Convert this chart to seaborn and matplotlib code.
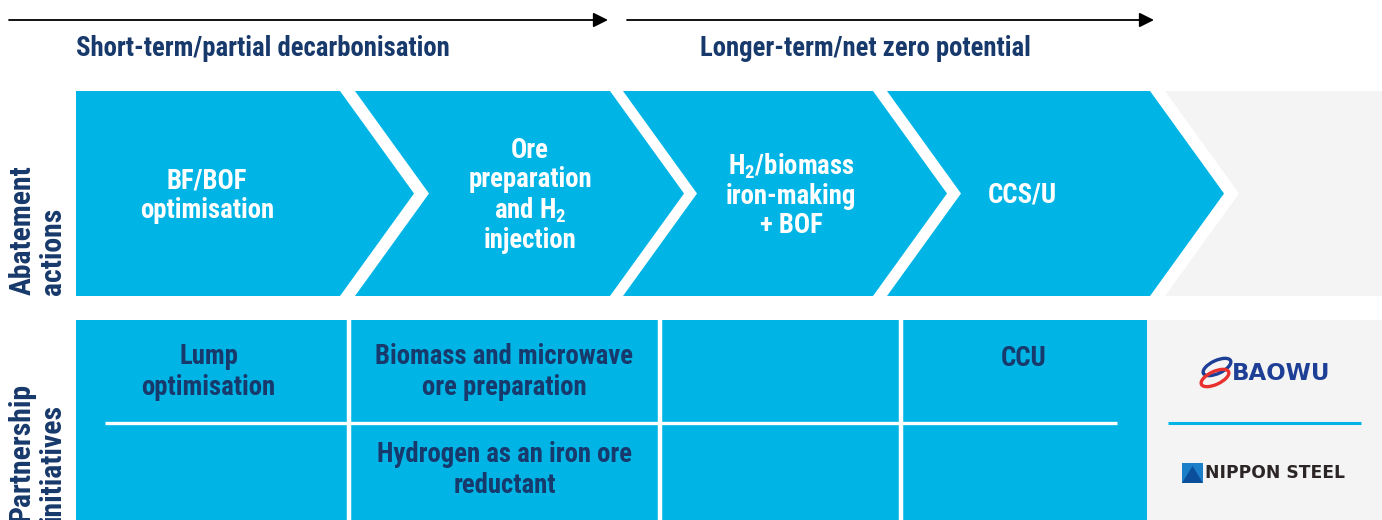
import matplotlib
matplotlib.use("Agg")
import matplotlib.pyplot as plt
from matplotlib.patches import Polygon, Rectangle, Ellipse
from matplotlib import font_manager
import seaborn as sns

# ---------------- data ----------------
phase_titles = ["Short-term/partial decarbonisation", "Longer-term/net zero potential"]
row_labels = ["Abatement\nactions", "Partnership\ninitiatives"]
abatement_actions = [
    "BF/BOF\noptimisation",
    "Ore\npreparation\nand H$_{\\mathregular{2}}$\ninjection",
    "H$_{\\mathregular{2}}$/biomass\niron-making\n+ BOF",
    "CCS/U",
]
partnership_top = ["Lump\noptimisation", "Biomass and microwave\nore preparation", "", "CCU"]
partnership_bottom = ["", "Hydrogen as an iron ore\nreductant", "", ""]
partners = ["BAOWU", "NIPPON STEEL"]

# ---------------- style ----------------
sns.set_theme(style="white")
avail = {f.name for f in font_manager.fontManager.ttflist}
FONT = "Roboto"
for cand in ["Roboto Condensed", "Liberation Sans Narrow", "Roboto"]:
    if cand in avail:
        FONT = cand
        break
plt.rcParams["font.family"] = [FONT, "DejaVu Sans"]
plt.rcParams["mathtext.default"] = "regular"

BLUE = "#00B5E5"
NAVY = "#17396B"
GRAY = "#F4F4F4"
FS = 19.3

W, H = 1382, 520
fig = plt.figure(figsize=(W / 100, H / 100), dpi=100)
ax = fig.add_axes([0, 0, 1, 1])
ax.set_xlim(0, W)
ax.set_ylim(H, 0)
ax.axis("off")

# ---------------- top arrows + phase titles ----------------
arrow_spans = [(9, 608), (627, 1154)]
title_x = [76, 700]
for (x0, x1), tx, title in zip(arrow_spans, title_x, phase_titles):
    ax.annotate("", xy=(x1, 20), xytext=(x0, 20),
                arrowprops=dict(arrowstyle="-|>", color="black", lw=1.3,
                                mutation_scale=22, shrinkA=0, shrinkB=0))
    ax.text(tx, 48, title, ha="left", va="center", color=NAVY,
            fontsize=FS, fontweight="bold")

# ---------------- chevrons ----------------
chev_left = [76, 355, 623, 887]
chev_right = [340, 610, 873, 1150]
depth = 74
y0, y1 = 91, 296
ym = (y0 + y1) / 2
chev_text_x = [207, 530, 791, 1022]

ax.add_patch(Rectangle((1150, y0), W - 1150, y1 - y0, facecolor=GRAY, edgecolor="none"))


def chevron(i, shift=0):
    L, R = chev_left[i] + shift, chev_right[i] + shift
    pts = [(L, y0), (R, y0), (R + depth, ym), (R, y1), (L, y1)]
    if i > 0:
        pts.append((L + depth, ym))
    return pts


last = len(abatement_actions) - 1
ax.add_patch(Polygon(chevron(last, 15), closed=True, facecolor="white", edgecolor="none"))
for i, label in enumerate(abatement_actions):
    ax.add_patch(Polygon(chevron(i), closed=True, facecolor=BLUE, edgecolor="none"))
    ax.text(chev_text_x[i], ym + 2, label, ha="center", va="center", color="white",
            fontsize=FS, fontweight="bold", linespacing=1.1, multialignment="center")

# ---------------- partnership grid ----------------
cols = [76, 349, 660, 901, 1147]
gtop = 320
ax.add_patch(Rectangle((cols[0], gtop), cols[-1] - cols[0], H - gtop + 5,
                       facecolor=BLUE, edgecolor="none"))
for x in cols[1:-1]:
    ax.plot([x, x], [gtop, H + 5], color="white", lw=3.2, solid_capstyle="butt")
ax.plot([105, 1117], [423, 423], color="white", lw=2.4, solid_capstyle="butt")

for i in range(len(partnership_top)):
    cx = (cols[i] + cols[i + 1]) / 2
    if i == 0:
        cx -= 4
    t = partnership_top[i]
    if t:
        n = t.count("\n") + 1
        ax.text(cx, 372 if n > 1 else 358, t, ha="center", va="center",
                color=NAVY, fontsize=FS, fontweight="bold", linespacing=1.15,
                multialignment="center")
    b = partnership_bottom[i]
    if b:
        ax.text(cx, 470, b, ha="center", va="center", color=NAVY, fontsize=FS,
                fontweight="bold", linespacing=1.15, multialignment="center")

# ---------------- partners panel ----------------
ax.add_patch(Rectangle((cols[-1], gtop), W - cols[-1], H - gtop + 5,
                       facecolor=GRAY, edgecolor="none"))
ax.plot([1168, 1361], [423, 423], color=BLUE, lw=2.2, solid_capstyle="butt")

# BAOWU logo
ax.add_patch(Ellipse((1217, 367), 30, 13, angle=-25, fill=False, edgecolor="#1E3F96", lw=2.4))
ax.add_patch(Ellipse((1215, 378), 30, 13, angle=-25, fill=False, edgecolor="#E8312F", lw=2.4))
ax.text(1232, 373, partners[0], ha="left", va="center", color="#1E3F96",
        fontsize=16.5, fontweight="bold", family=["DejaVu Sans"])

# NIPPON STEEL logo
ax.add_patch(Rectangle((1182, 463), 21, 20, facecolor="#1A7FC8", edgecolor="none"))
ax.add_patch(Polygon([(1182, 483), (1192.5, 466), (1203, 483)], closed=True,
                     facecolor="#0B4F9C", edgecolor="none"))
ax.text(1205, 473, partners[1], ha="left", va="center", color="#2B2526",
        fontsize=12.3, fontweight="bold", family=["DejaVu Sans"])

# ---------------- row labels ----------------
ax.text(38, 295, row_labels[0], rotation=90, ha="center", va="bottom",
        multialignment="left", color=NAVY, fontsize=21.4, fontweight="bold",
        linespacing=1.12)
ax.text(37, 383, row_labels[1], rotation=90, ha="center", va="top",
        multialignment="left", color=NAVY, fontsize=21.4, fontweight="bold",
        linespacing=1.12)

fig.savefig("out.png", dpi=100)
